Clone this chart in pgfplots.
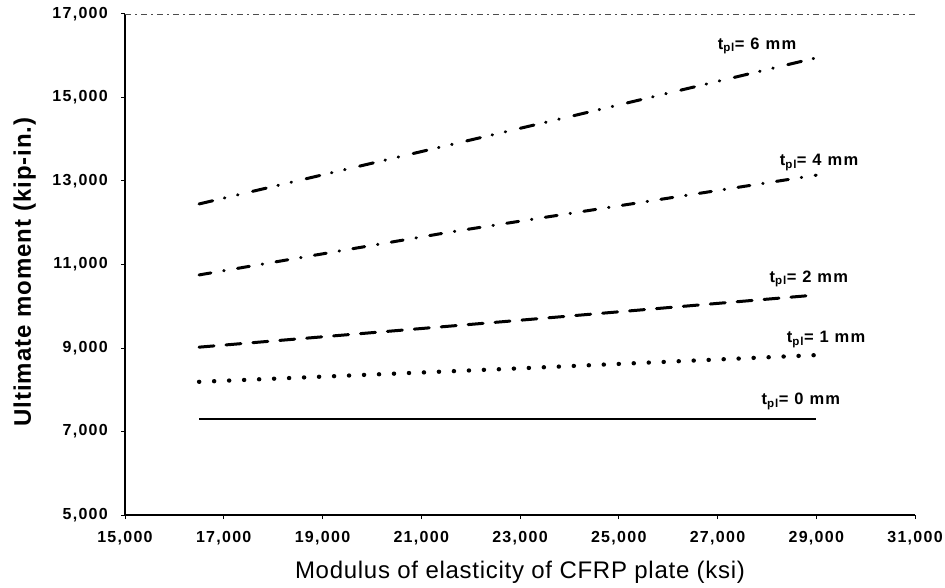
\documentclass[border=0pt]{standalone}
\usepackage{fontspec}
\setmainfont{Liberation Sans}
\usepackage{pgfplots}
\pgfplotsset{compat=1.18}
\begin{document}
\begin{tikzpicture}
\path[use as bounding box] (0,0) rectangle (945pt,587pt);
\begin{axis}[
  at={(125pt,72pt)}, anchor=south west,
  scale only axis, width=790pt, height=501pt,
  xmin=15000, xmax=31000, ymin=5000, ymax=17000,
  xtick={15000,17000,...,31000}, ytick={5000,7000,...,17000},
  axis lines*=left,
  scaled ticks=false,
  /pgf/number format/1000 sep={,},
  /pgf/number format/assume math mode=true,
  tick label style={font=\fontsize{16}{16}\selectfont\bfseries\addfontfeature{LetterSpace=8}},
  xticklabel style={inner sep=0pt, anchor=north, yshift=-12pt},
  yticklabel style={inner sep=0pt, anchor=east, xshift=-13pt},
  tick align=outside, major tick length=4pt,
  tick style={line width=1pt, black},
  axis line style={line width=1.5pt},
  xlabel={Modulus of elasticity of CFRP plate (ksi)},
  ylabel={Ultimate moment (kip-in.)},
  xlabel style={font=\fontsize{24}{24}\selectfont\addfontfeature{LetterSpace=3}, at={(axis description cs:0.5,-0.1277)}, anchor=base},
  ylabel style={font=\fontsize{24}{24}\selectfont\bfseries\addfontfeature{LetterSpace=4}, at={(axis description cs:-0.119,0.485)}, anchor=base},
  clip=false,
  every axis plot/.append style={black, line cap=round},
]
\draw[gray!60!black, line width=0.8pt, dash pattern=on 6pt off 4pt on 2pt off 4pt] (axis cs:15000,17000) -- (axis cs:31000,17000);
% t = 0 mm
\addplot[line width=2pt, line cap=butt] coordinates {(16500,7300) (22750,7300) (29000,7300)};
% t = 1 mm
\addplot[line width=4.3pt, dash pattern=on 0.2pt off 14.8pt] coordinates {(16500,8190) (22750,8500) (29000,8830)};
% t = 2 mm
\addplot[line width=3pt, dash pattern=on 15pt off 12pt] coordinates {(16500,9020) (22750,9640) (29000,10270)};
% t = 4 mm
\addplot[line width=3pt, dash pattern=on 12pt off 13pt on 0.5pt off 13.5pt] coordinates {(16500,10750) (21600,11780) (29000,13140)};
% t = 6 mm
\addplot[line width=3pt, dash pattern=on 14pt off 12pt on 0.5pt off 13pt on 0.5pt off 15pt] coordinates {(16500,12450) (24000,14540) (29000,15950)};
\begin{scope}[every node/.style={font=\fontsize{16.5}{16.5}\selectfont\bfseries\addfontfeature{LetterSpace=8}, anchor=base, inner sep=0pt}]
\node at (axis cs:27800,16160) {t\textsubscript{pl}= 6 mm};
\node at (axis cs:29056,13370) {t\textsubscript{pl}= 4 mm};
\node at (axis cs:28850,10580) {t\textsubscript{pl}= 2 mm};
\node at (axis cs:29200,9120) {t\textsubscript{pl}= 1 mm};
\node at (axis cs:28690,7635) {t\textsubscript{pl}= 0 mm};
\end{scope}
\end{axis}
\end{tikzpicture}
\end{document}
